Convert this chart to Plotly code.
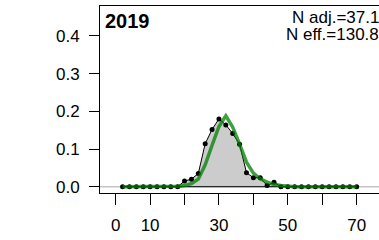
import plotly.graph_objects as go

# ---- data ----
length_bins = [2, 4, 6, 8, 10, 12, 14, 16, 18, 20, 22, 24, 26, 28, 30, 32, 34,
               36, 38, 40, 42, 44, 46, 48, 50, 52, 54, 56, 58, 60, 62, 64, 66, 68, 70]
observed = [0, 0, 0, 0, 0, 0, 0, 0, 0, 0.015, 0.020, 0.035, 0.114, 0.152, 0.180,
            0.164, 0.141, 0.113, 0.037, 0.024, 0.024, 0.003, 0.012, 0, 0, 0, 0, 0,
            0, 0, 0, 0, 0, 0, 0]
expected = [0, 0, 0, 0, 0, 0, 0, 0, 0.001, 0.003, 0.008, 0.020, 0.058, 0.110, 0.160,
            0.188, 0.158, 0.113, 0.065, 0.036, 0.021, 0.012, 0.006, 0.003, 0.001,
            0, 0, 0, 0, 0, 0, 0, 0, 0, 0]
x_tick_vals = [0, 10, 20, 30, 40, 50, 60, 70]
x_tick_text = ["0", "10", "", "30", "", "50", "", "70"]
y_tick_vals = [0.0, 0.1, 0.2, 0.3, 0.4]
panel_label = "2019"
n_adj_text = "N adj.=37.1"
n_eff_text = "N eff.=130.8"

FONT = "Liberation Sans, Arial, sans-serif"

fig = go.Figure()

# observed polygon (gray fill, black outline)
fig.add_trace(go.Scatter(
    x=length_bins, y=observed, mode="lines", fill="tozeroy",
    fillcolor="#cccccc", line=dict(color="black", width=1),
    hoverinfo="skip", showlegend=False))
# bottom edge of polygon
fig.add_trace(go.Scatter(
    x=[length_bins[0], length_bins[-1]], y=[0, 0], mode="lines",
    line=dict(color="black", width=1), hoverinfo="skip", showlegend=False))
# observed points
fig.add_trace(go.Scatter(
    x=length_bins, y=observed, mode="markers",
    marker=dict(color="black", size=5), showlegend=False))
# expected line
fig.add_trace(go.Scatter(
    x=length_bins, y=expected, mode="lines",
    line=dict(color="rgba(0,128,0,0.75)", width=3.5), showlegend=False))

fig.add_shape(type="line", xref="paper", yref="y", x0=0, x1=1, y0=0, y1=0,
              line=dict(color="#c4c4c4", width=1.5), layer="below")

fig.update_layout(
    width=379, height=240,
    margin=dict(l=100, r=0, t=6, b=47),
    paper_bgcolor="white", plot_bgcolor="white",
    font=dict(family=FONT, size=17, color="black"),
    xaxis=dict(range=[-4.56, 76.5], tickmode="array", tickvals=x_tick_vals,
               ticktext=x_tick_text, ticks="outside", ticklen=11, tickwidth=1,
               tickcolor="black", showline=True, mirror=True, linecolor="black",
               linewidth=1, showgrid=False, zeroline=False,
               ticklabelstandoff=6, tickfont=dict(family=FONT, size=17)),
    yaxis=dict(range=[-0.0167, 0.4796], tickmode="array", tickvals=y_tick_vals,
               tickformat=".1f", ticks="outside", ticklen=10, tickwidth=1,
               tickcolor="black", showline=True, mirror=False, linecolor="black",
               linewidth=1, showgrid=False, zeroline=False,
               ticklabelstandoff=6, tickfont=dict(family=FONT, size=17)),
    annotations=[
        dict(text="<b>" + panel_label + "</b>", xref="paper", yref="paper",
             x=0.0108, y=(193 - 21) / 187, xanchor="left", yanchor="middle",
             showarrow=False, font=dict(family=FONT, size=20, color="black")),
        dict(text=n_adj_text, xref="paper", yref="paper",
             x=1.006, y=(193 - 17.8) / 187, xanchor="right", yanchor="middle",
             showarrow=False, font=dict(family=FONT, size=17, color="black")),
        dict(text=n_eff_text, xref="paper", yref="paper",
             x=1.006, y=(193 - 34) / 187, xanchor="right", yanchor="middle",
             showarrow=False, font=dict(family=FONT, size=17, color="black")),
    ],
)

fig.write_html("out.html",
               config={"displayModeBar": False},
               post_script="document.body.style.margin='0';document.body.style.padding='0';")
